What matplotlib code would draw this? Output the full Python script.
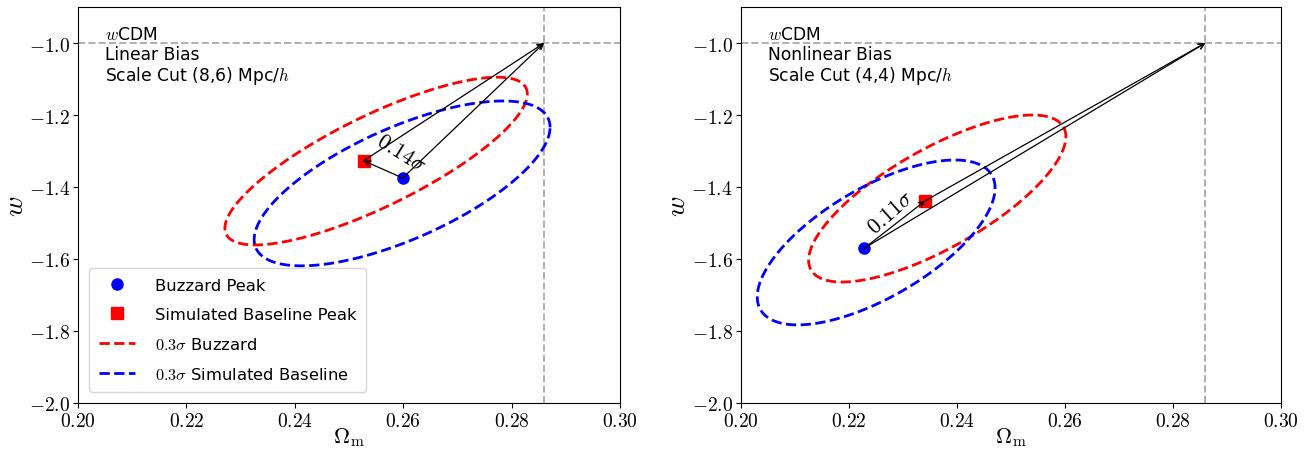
import numpy as np
import matplotlib
matplotlib.use("Agg")
import matplotlib.pyplot as plt
from matplotlib.ticker import FuncFormatter

plt.rcParams['mathtext.fontset'] = 'cm'
plt.rcParams['font.family'] = ['DejaVu Sans']

# ---- data ----
fiducial_om = 0.286
fiducial_w = -1.0

panel_text = ["$w$CDM\nLinear Bias\nScale Cut (8,6) Mpc/$h$",
              "$w$CDM\nNonlinear Bias\nScale Cut (4,4) Mpc/$h$"]
shift_labels = [r"$0.14\sigma$", r"$0.11\sigma$"]

buzzard_peak_om = [0.2599, 0.2229]
buzzard_peak_w = [-1.375, -1.570]
sim_peak_om = [0.2527, 0.2342]
sim_peak_w = [-1.327, -1.438]

# ellipse parameters: centre om, centre w, sigma om, sigma w, correlation
buzzard_ell_center_om = [0.2550, 0.2364]
buzzard_ell_center_w = [-1.328, -1.432]
buzzard_ell_sig_om = [0.0279, 0.0238]
buzzard_ell_sig_w = [0.233, 0.232]
buzzard_ell_rho = [0.80, 0.74]

sim_ell_center_om = [0.2598, 0.2251]
sim_ell_center_w = [-1.390, -1.554]
sim_ell_sig_om = [0.0273, 0.0220]
sim_ell_sig_w = [0.229, 0.229]
sim_ell_rho = [0.68, 0.66]

label_om = [0.2596, 0.2278]
label_w = [-1.303, -1.468]
label_rot = [-32, 42]

xticks = [0.20, 0.22, 0.24, 0.26, 0.28, 0.30]
yticks = [-2.0, -1.8, -1.6, -1.4, -1.2, -1.0]


def ellipse(cx, cy, sx, sy, rho, n=400):
    t = np.linspace(0, 2 * np.pi, n)
    x = cx + sx * np.cos(t)
    y = cy + sy * (rho * np.cos(t) + np.sqrt(1 - rho ** 2) * np.sin(t))
    return x, y


fig = plt.figure(figsize=(13.05, 4.52), dpi=100)
ax1 = fig.add_axes([78 / 1305, 48 / 452, 542 / 1305, 396 / 452])
ax2 = fig.add_axes([740.5 / 1305, 48 / 452, 540.5 / 1305, 396 / 452])

for i, ax in enumerate([ax1, ax2]):
    ax.axvline(fiducial_om, color='#b0b0b0', ls='--', lw=1.4, zorder=1)
    ax.axhline(fiducial_w, color='#b0b0b0', ls='--', lw=1.4, zorder=1)

    ax.plot(buzzard_peak_om[i], buzzard_peak_w[i], 'o', color='blue', ms=8,
            label='Buzzard Peak', zorder=4)
    ax.plot(sim_peak_om[i], sim_peak_w[i], 's', color='red', ms=8,
            label='Simulated Baseline Peak', zorder=4)

    ex, ey = ellipse(buzzard_ell_center_om[i], buzzard_ell_center_w[i],
                     buzzard_ell_sig_om[i], buzzard_ell_sig_w[i], buzzard_ell_rho[i])
    ax.plot(ex, ey, '--', color='red', lw=2, label=r'$0.3\sigma$ Buzzard', zorder=3)
    ex, ey = ellipse(sim_ell_center_om[i], sim_ell_center_w[i],
                     sim_ell_sig_om[i], sim_ell_sig_w[i], sim_ell_rho[i])
    ax.plot(ex, ey, '--', color='blue', lw=2, label=r'$0.3\sigma$ Simulated Baseline', zorder=3)

    aprops = dict(arrowstyle='->', color='black', lw=0.9, shrinkA=0, shrinkB=0)
    ax.annotate('', xy=(sim_peak_om[i], sim_peak_w[i]),
                xytext=(buzzard_peak_om[i], buzzard_peak_w[i]), arrowprops=aprops, zorder=5)
    ax.annotate('', xy=(fiducial_om, fiducial_w),
                xytext=(sim_peak_om[i], sim_peak_w[i]), arrowprops=aprops, zorder=5)
    ax.annotate('', xy=(fiducial_om, fiducial_w),
                xytext=(buzzard_peak_om[i], buzzard_peak_w[i]), arrowprops=aprops, zorder=5)

    ax.text(label_om[i], label_w[i], shift_labels[i], rotation=label_rot[i],
            ha='center', va='center', fontsize=16, rotation_mode='anchor', zorder=6)

    ax.text(0.05, 0.955, panel_text[i], transform=ax.transAxes, ha='left', va='top',
            fontsize=12.3, linespacing=1.12)

    ax.set_xlim(0.20, 0.30)
    ax.set_ylim(-2.0, -0.9)
    ax.set_xticks(xticks)
    ax.set_yticks(yticks)
    ax.xaxis.set_major_formatter(FuncFormatter(lambda v, p: f'${v:.2f}$'))
    ax.yaxis.set_major_formatter(FuncFormatter(lambda v, p: f'${v:.1f}$'))
    ax.tick_params(labelsize=14, pad=2)
    ax.set_xlabel(r'$\Omega_{\rm m}$', fontsize=16, labelpad=-3)
    ax.set_ylabel(r'$w$', fontsize=20, labelpad=0)

ax1.legend(loc='lower left', fontsize=11.8, numpoints=1, borderpad=0.6,
           labelspacing=0.85, handlelength=2.2, handletextpad=1.2, borderaxespad=0.7)

fig.savefig('out.png', dpi=100)
